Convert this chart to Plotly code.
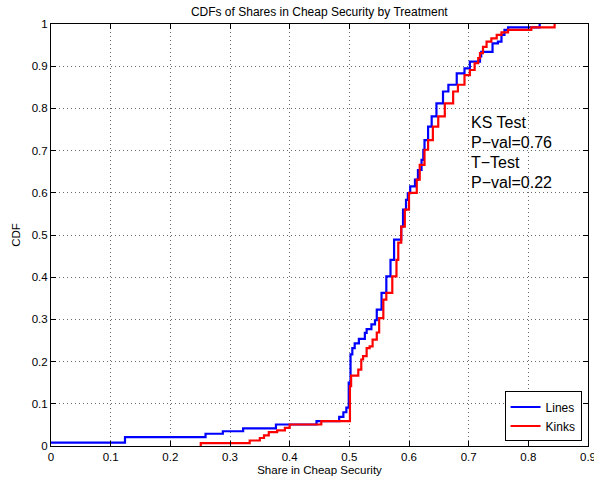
import plotly.graph_objects as go

# Empirical CDF step points: share in the cheap security and cumulative fraction
lines_share = [0.0, 0.124, 0.259, 0.288, 0.322, 0.377, 0.445, 0.483, 0.490, 0.495,
               0.499, 0.502, 0.505, 0.509, 0.516, 0.526, 0.529, 0.537, 0.543, 0.546,
               0.554, 0.562, 0.569, 0.575, 0.587, 0.590, 0.595, 0.598, 0.602, 0.610,
               0.615, 0.621, 0.624, 0.626, 0.632, 0.638, 0.646, 0.657, 0.666, 0.680,
               0.693, 0.702, 0.719, 0.721, 0.740, 0.749, 0.755, 0.760, 0.766, 0.819]
lines_cdf = [0.008, 0.021, 0.029, 0.035, 0.042, 0.051, 0.059, 0.069, 0.080, 0.091,
             0.150, 0.217, 0.232, 0.243, 0.254, 0.268, 0.277, 0.288, 0.298, 0.323,
             0.363, 0.402, 0.441, 0.489, 0.520, 0.560, 0.583, 0.599, 0.615, 0.631,
             0.654, 0.678, 0.702, 0.725, 0.757, 0.781, 0.812, 0.840, 0.856, 0.883,
             0.895, 0.911, 0.923, 0.934, 0.954, 0.958, 0.974, 0.986, 0.992, 1.0]

kinks_share = [0.251, 0.251, 0.333, 0.350, 0.357, 0.365, 0.379, 0.392, 0.400, 0.453,
               0.501, 0.503, 0.515, 0.520, 0.523, 0.529, 0.534, 0.539, 0.546, 0.550,
               0.557, 0.562, 0.572, 0.579, 0.582, 0.587, 0.593, 0.600, 0.613, 0.618,
               0.626, 0.632, 0.640, 0.649, 0.660, 0.674, 0.682, 0.693, 0.702, 0.710,
               0.716, 0.719, 0.724, 0.730, 0.738, 0.747, 0.755, 0.766, 0.805, 0.844]
kinks_cdf = [0.0, 0.007, 0.013, 0.019, 0.025, 0.033, 0.037, 0.043, 0.051, 0.059,
             0.142, 0.167, 0.181, 0.205, 0.213, 0.232, 0.236, 0.252, 0.269, 0.303,
             0.347, 0.363, 0.402, 0.441, 0.482, 0.520, 0.560, 0.600, 0.631, 0.666,
             0.702, 0.725, 0.757, 0.781, 0.812, 0.840, 0.856, 0.879, 0.891, 0.907,
             0.919, 0.931, 0.946, 0.958, 0.966, 0.974, 0.980, 0.986, 0.992, 1.0]

x_ticks = [0, 0.1, 0.2, 0.3, 0.4, 0.5, 0.6, 0.7, 0.8, 0.9]
x_tick_text = ["0", "0.1", "0.2", "0.3", "0.4", "0.5", "0.6", "0.7", "0.8", "0.9"]
y_ticks = [0, 0.1, 0.2, 0.3, 0.4, 0.5, 0.6, 0.7, 0.8, 0.9, 1]
y_tick_text = ["0", "0.1", "0.2", "0.3", "0.4", "0.5", "0.6", "0.7", "0.8", "0.9", "1"]

test_lines = ["KS Test", "P\u2212val=0.76", "T\u2212Test", "P\u2212val=0.22"]

FONT = "Liberation Sans, Arial, Helvetica, sans-serif"

fig = go.Figure()
fig.add_trace(go.Scatter(
    x=lines_share, y=lines_cdf, mode="lines", name="Lines",
    line=dict(color="#0000ff", width=2.2, shape="hv"),
))
fig.add_trace(go.Scatter(
    x=kinks_share, y=kinks_cdf, mode="lines", name="Kinks",
    line=dict(color="#ff0000", width=2.2, shape="hv"),
))

# Test statistics block, stacked lines of text
for i, txt in enumerate(test_lines):
    fig.add_annotation(
        x=0.70, y=0.766 - i * 0.0473, xref="x", yref="y",
        text=txt, showarrow=False, xanchor="left", yanchor="middle",
        font=dict(family=FONT, size=16, color="black"),
    )

axis_common = dict(
    showline=True, linecolor="black", linewidth=1, mirror="ticks",
    ticks="inside", ticklen=5, tickwidth=1, tickcolor="black",
    showgrid=True, gridcolor="#6a6a6a", gridwidth=1, griddash="1px,3px",
    zeroline=False, ticklabeloverflow="allow",
    tickfont=dict(family=FONT, size=11.5, color="black"),
)

fig.update_xaxes(
    range=[0, 0.9], tickvals=x_ticks, ticktext=x_tick_text,
    title=dict(text="Share in Cheap Security", standoff=4,
               font=dict(family=FONT, size=11.5, color="black")),
    **axis_common,
)
fig.update_yaxes(
    range=[0, 1], tickvals=y_ticks, ticktext=y_tick_text,
    title=dict(text="CDF", standoff=8,
               font=dict(family=FONT, size=11.5, color="black")),
    **axis_common,
)

fig.update_layout(
    width=594, height=480,
    margin=dict(l=51, r=6, t=24, b=34, autoexpand=False),
    paper_bgcolor="white", plot_bgcolor="white",
    title=dict(text="CDFs of Shares in Cheap Security by Treatment",
               x=0.5375, xanchor="center", y=1 - 12 / 480, yanchor="middle",
               font=dict(family=FONT, size=12, color="black")),
    showlegend=True,
    legend=dict(
        x=0.988, y=0.0107, xanchor="right", yanchor="bottom",
        bgcolor="white", bordercolor="black", borderwidth=1,
        font=dict(family=FONT, size=12, color="black"),
        tracegroupgap=0,
    ),
)

fig.write_html("out.html")
